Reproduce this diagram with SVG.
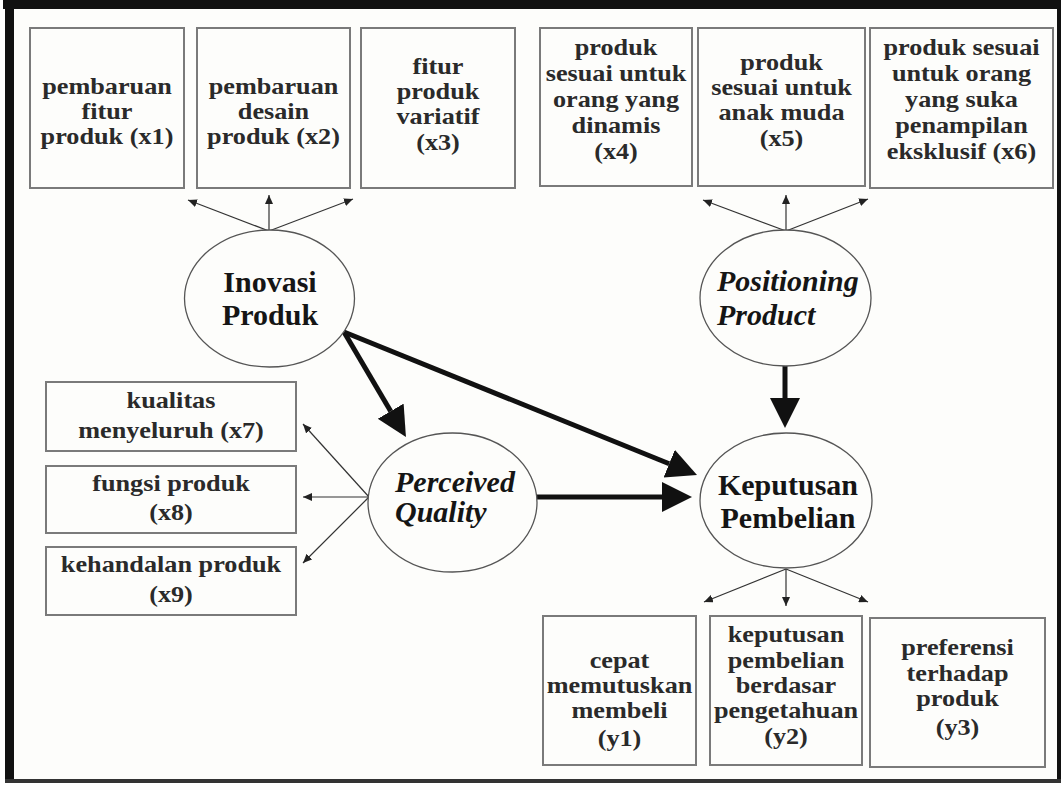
<svg xmlns="http://www.w3.org/2000/svg" width="1063" height="785" viewBox="0 0 1063 785">
<defs>
<style>
.box{fill:#fdfdfb;stroke:#7a7a7a;stroke-width:2}
.ell{fill:#fdfdfb;stroke:#555;stroke-width:1.3}
.bt{font-family:"Liberation Serif","Times New Roman",serif;font-weight:bold;font-size:23px;fill:#2a2a2a;text-anchor:middle}
.et{font-family:"Liberation Serif","Times New Roman",serif;font-weight:bold;font-size:30px;fill:#151515}
.it{font-style:italic}
.thin{stroke:#333;stroke-width:1.2;fill:none;marker-end:url(#ah)}
.thick{stroke:#111;stroke-width:5;fill:none;marker-end:url(#bh)}
</style>
<marker id="ah" markerUnits="userSpaceOnUse" markerWidth="10" markerHeight="8" refX="9" refY="4" orient="auto">
<path d="M0,0 L9,4 L0,8 z" fill="#222"/>
</marker>
<marker id="bh" markerUnits="userSpaceOnUse" markerWidth="31" markerHeight="31" refX="0" refY="15" orient="auto">
<path d="M0,0 L30,15 L0,30 z" fill="#111"/>
</marker>
</defs>
<rect x="0" y="0" width="1063" height="785" fill="#ffffff"/>
<rect x="10" y="5" width="1050" height="776" fill="#fdfdfb"/>
<g id="frame" fill="#111">
<rect x="3" y="0" width="1058" height="9"/>
<rect x="5" y="0" width="9" height="783"/>
<rect x="1057" y="0" width="4" height="783"/>
<rect x="5" y="779" width="1056" height="4" fill="#333"/>
</g>
<g id="connectors">
<line class="thin" x1="269" y1="231" x2="188" y2="200"/>
<line class="thin" x1="269" y1="231" x2="269" y2="195"/>
<line class="thin" x1="269" y1="231" x2="353" y2="199"/>
<line class="thin" x1="786" y1="231" x2="703" y2="200"/>
<line class="thin" x1="786" y1="231" x2="786" y2="195"/>
<line class="thin" x1="786" y1="231" x2="868" y2="199"/>
<line class="thin" x1="369" y1="497" x2="303" y2="424"/>
<line class="thin" x1="369" y1="497" x2="303" y2="497"/>
<line class="thin" x1="369" y1="497" x2="303" y2="563"/>
<line class="thin" x1="786" y1="569" x2="704" y2="602"/>
<line class="thin" x1="786" y1="569" x2="786" y2="606"/>
<line class="thin" x1="786" y1="569" x2="868" y2="602"/>
<line class="thick" x1="344" y1="332" x2="390.7" y2="411.2"/>
<line class="thick" x1="344" y1="332" x2="669.2" y2="463.7"/>
<line class="thick" x1="537" y1="497" x2="662" y2="497"/>
<line class="thick" x1="785" y1="366" x2="785" y2="398"/>
</g>
<g id="inovasi">
<ellipse class="ell" cx="269.5" cy="298.5" rx="85" ry="68.5"/>
<text class="et" x="270" y="292" text-anchor="middle">Inovasi</text>
<text class="et" x="270" y="325" text-anchor="middle">Produk</text>
</g>
<g id="positioning">
<ellipse class="ell" cx="785.5" cy="298" rx="85.5" ry="68"/>
<text class="et it" x="717" y="291">Positioning</text>
<text class="et it" x="717" y="325">Product</text>
</g>
<g id="perceived">
<ellipse class="ell" cx="452.5" cy="502.5" rx="84.5" ry="69.5"/>
<text class="et it" x="395" y="492">Perceived</text>
<text class="et it" x="395" y="522">Quality</text>
</g>
<g id="keputusan">
<ellipse class="ell" cx="786" cy="500.5" rx="86" ry="67.5"/>
<text class="et" x="788" y="495" text-anchor="middle">Keputusan</text>
<text class="et" x="788" y="528" text-anchor="middle">Pembelian</text>
</g>
<g id="x1">
<rect class="box" x="30" y="28" width="154" height="160"/>
<text class="bt" transform="translate(107,0) scale(1.14,1)" x="0" y="94">pembaruan</text>
<text class="bt" transform="translate(107,0) scale(1.14,1)" x="0" y="119">fitur</text>
<text class="bt" transform="translate(107,0) scale(1.14,1)" x="0" y="144">produk (x1)</text>
</g>
<g id="x2">
<rect class="box" x="197" y="28" width="153" height="160"/>
<text class="bt" transform="translate(273.5,0) scale(1.14,1)" x="0" y="94">pembaruan</text>
<text class="bt" transform="translate(273.5,0) scale(1.14,1)" x="0" y="119">desain</text>
<text class="bt" transform="translate(273.5,0) scale(1.14,1)" x="0" y="144">produk (x2)</text>
</g>
<g id="x3">
<rect class="box" x="361" y="28" width="154" height="160"/>
<text class="bt" transform="translate(438,0) scale(1.14,1)" x="0" y="74">fitur</text>
<text class="bt" transform="translate(438,0) scale(1.14,1)" x="0" y="99">produk</text>
<text class="bt" transform="translate(438,0) scale(1.14,1)" x="0" y="124">variatif</text>
<text class="bt" transform="translate(438,0) scale(1.14,1)" x="0" y="150">(x3)</text>
</g>
<g id="x4">
<rect class="box" x="540" y="28" width="152" height="158"/>
<text class="bt" transform="translate(616,0) scale(1.14,1)" x="0" y="55">produk</text>
<text class="bt" transform="translate(616,0) scale(1.14,1)" x="0" y="81">sesuai untuk</text>
<text class="bt" transform="translate(616,0) scale(1.14,1)" x="0" y="107">orang yang</text>
<text class="bt" transform="translate(616,0) scale(1.14,1)" x="0" y="133">dinamis</text>
<text class="bt" transform="translate(616,0) scale(1.14,1)" x="0" y="159">(x4)</text>
</g>
<g id="x5">
<rect class="box" x="698" y="28" width="167" height="158"/>
<text class="bt" transform="translate(781.5,0) scale(1.14,1)" x="0" y="70">produk</text>
<text class="bt" transform="translate(781.5,0) scale(1.14,1)" x="0" y="95">sesuai untuk</text>
<text class="bt" transform="translate(781.5,0) scale(1.14,1)" x="0" y="120">anak muda</text>
<text class="bt" transform="translate(781.5,0) scale(1.14,1)" x="0" y="146">(x5)</text>
</g>
<g id="x6">
<rect class="box" x="870" y="28" width="183" height="160"/>
<text class="bt" transform="translate(961.5,0) scale(1.14,1)" x="0" y="55">produk sesuai</text>
<text class="bt" transform="translate(961.5,0) scale(1.14,1)" x="0" y="81">untuk orang</text>
<text class="bt" transform="translate(961.5,0) scale(1.14,1)" x="0" y="107">yang suka</text>
<text class="bt" transform="translate(961.5,0) scale(1.14,1)" x="0" y="133">penampilan</text>
<text class="bt" transform="translate(961.5,0) scale(1.14,1)" x="0" y="159">eksklusif (x6)</text>
</g>
<g id="x7">
<rect class="box" x="46" y="382" width="250" height="69"/>
<text class="bt" transform="translate(171,0) scale(1.14,1)" x="0" y="408">kualitas</text>
<text class="bt" transform="translate(171,0) scale(1.14,1)" x="0" y="438">menyeluruh (x7)</text>
</g>
<g id="x8">
<rect class="box" x="46" y="466" width="250" height="67"/>
<text class="bt" transform="translate(171,0) scale(1.14,1)" x="0" y="491">fungsi produk</text>
<text class="bt" transform="translate(171,0) scale(1.14,1)" x="0" y="520">(x8)</text>
</g>
<g id="x9">
<rect class="box" x="46" y="547" width="250" height="68"/>
<text class="bt" transform="translate(171,0) scale(1.14,1)" x="0" y="572">kehandalan produk</text>
<text class="bt" transform="translate(171,0) scale(1.14,1)" x="0" y="602">(x9)</text>
</g>
<g id="y1">
<rect class="box" x="543" y="616" width="153" height="149"/>
<text class="bt" transform="translate(619.5,0) scale(1.14,1)" x="0" y="668">cepat</text>
<text class="bt" transform="translate(619.5,0) scale(1.14,1)" x="0" y="693">memutuskan</text>
<text class="bt" transform="translate(619.5,0) scale(1.14,1)" x="0" y="718">membeli</text>
<text class="bt" transform="translate(619.5,0) scale(1.14,1)" x="0" y="746">(y1)</text>
</g>
<g id="y2">
<rect class="box" x="710" y="616" width="152" height="149"/>
<text class="bt" transform="translate(786,0) scale(1.14,1)" x="0" y="642">keputusan</text>
<text class="bt" transform="translate(786,0) scale(1.14,1)" x="0" y="668">pembelian</text>
<text class="bt" transform="translate(786,0) scale(1.14,1)" x="0" y="693">berdasar</text>
<text class="bt" transform="translate(786,0) scale(1.14,1)" x="0" y="718">pengetahuan</text>
<text class="bt" transform="translate(786,0) scale(1.14,1)" x="0" y="744">(y2)</text>
</g>
<g id="y3">
<rect class="box" x="870" y="618" width="175" height="149"/>
<text class="bt" transform="translate(957.5,0) scale(1.14,1)" x="0" y="655">preferensi</text>
<text class="bt" transform="translate(957.5,0) scale(1.14,1)" x="0" y="681">terhadap</text>
<text class="bt" transform="translate(957.5,0) scale(1.14,1)" x="0" y="706">produk</text>
<text class="bt" transform="translate(957.5,0) scale(1.14,1)" x="0" y="735">(y3)</text>
</g>
</svg>
